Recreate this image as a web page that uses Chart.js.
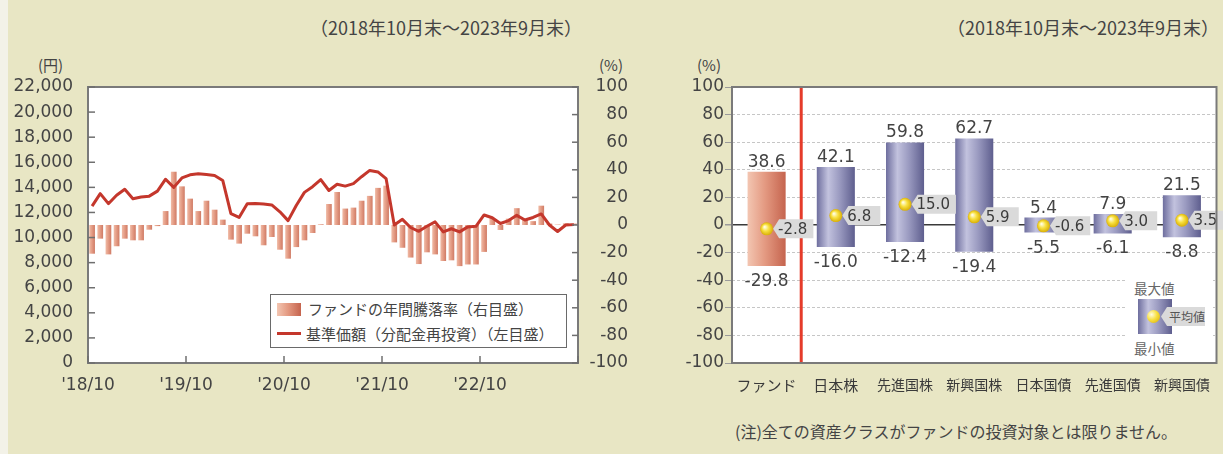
<!DOCTYPE html>
<html lang="ja">
<head>
<meta charset="utf-8">
<title>ファンドの年間騰落率と代表的な資産クラスとの騰落率の比較</title>
<script src="https://cdn.jsdelivr.net/npm/chart.js@4.4.1/dist/chart.umd.min.js"></script>
<style>
  html, body { margin: 0; padding: 0; }
  body {
    width: 1223px; height: 454px; position: relative; overflow: hidden;
    background: #e8e6c4; color: #444;
    font-family: "Noto Sans CJK JP", sans-serif;
  }
  .abs { position: absolute; white-space: nowrap; }
  #edge { left: 0; top: 0; width: 8px; height: 454px; background: #f3f2e8; }
  .period { top: 15px; font-size: 18px; line-height: 24px; color: #444; }
  .unit { top: 55px; font-size: 15px; line-height: 20px; color: #444; }
  canvas { position: absolute; top: 0; }
  #legend1 {
    left: 270px; top: 294px; width: 297px; height: 54px; box-sizing: border-box;
    border: 1.5px solid #6a6a6a; background: #fff;
  }
  #legend1 .txt { position: absolute; font-size: 15px; line-height: 20px; color: #444; white-space: nowrap; }
  .swatchBar { position: absolute; background: linear-gradient(to right, #f3c6b2, #e49a82 45%, #c5644e); }
  .swatchLine { position: absolute; background: #c4372c; }
  #legend2 { left: 1126px; top: 277px; width: 87px; height: 82px; background: #fff; }
  #legend2 .txt { position: absolute; font-size: 13.5px; line-height: 18px; color: #666; white-space: nowrap; }
  .swatchAsset { position: absolute; background: linear-gradient(to right, #6e6e9e, #c2c2de 30%, #9a9ac0 60%, #5e5e8e); }
  .dot { position: absolute; width: 13px; height: 13px; border-radius: 50%;
         background: radial-gradient(circle at 35% 35%, #fffde0 0%, #f8e040 45%, #d4a800 100%); }
  .tag { position: absolute; background: #dadada; color: #555; font-size: 12px; line-height: 19px;
         clip-path: polygon(0 50%, 6px 0, 100% 0, 100% 100%, 6px 100%); }
  #note { left: 735px; top: 420px; font-size: 16px; line-height: 22px; color: #444; }
</style>
</head>
<body>
<div id="edge" class="abs"></div>

<div class="abs period" style="right:641px;">（2018年10月末～2023年9月末）</div>
<div class="abs period" style="right:4px;">（2018年10月末～2023年9月末）</div>

<div class="abs unit" style="left:38px;">(円)</div>
<div class="abs unit" style="left:599px;">(%)</div>
<div class="abs unit" style="left:697px;">(%)</div>

<canvas id="navChart" width="640" height="400" style="left:0;"></canvas>
<canvas id="rangeChart" width="573" height="400" style="left:650px;"></canvas>

<div id="legend1" class="abs">
  <div class="swatchBar" style="left:6px;top:8px;width:24px;height:13px;"></div>
  <div class="txt" style="left:37px;top:4px;">ファンドの年間騰落率（右目盛）</div>
  <div class="swatchLine" style="left:6px;top:37px;width:24px;height:3px;"></div>
  <div class="txt" style="left:35px;top:29px;">基準価額（分配金再投資）（左目盛）</div>
</div>

<div id="legend2" class="abs">
  <div class="txt" style="left:8px;top:2px;">最大値</div>
  <div class="swatchAsset" style="left:12px;top:22px;width:34px;height:35px;"></div>
  <div class="dot" style="left:21px;top:33px;"></div>
  <div class="tag" style="left:35px;top:30px;width:44px;padding-left:8px;box-sizing:border-box;">平均値</div>
  <div class="txt" style="left:8px;top:62px;">最小値</div>
</div>

<div id="note" class="abs">(注)全ての資産クラスがファンドの投資対象とは限りません。</div>

<script>
// ---- 月次データ（2018年10月末〜2023年9月末） ----
const months = [];
for (let i = 0; i < 60; i++) {
  const m = (9 + i) % 12 + 1;
  const y = 2018 + Math.floor((9 + i) / 12);
  months.push(y + '/' + String(m).padStart(2, '0'));
}

// ファンドの年間騰落率（%）
const fundReturn = [
  -20.8, -9.9, -21.3, -15.4, -9.9, -11.1, -11.1, -3.4, -0.8, 10.1,
  38.6, 28.0, 19.1, 10.1, 17.6, 11.1, 3.9, -10.6, -13.5, -6.3,
  -8.2, -14.7, -8.7, -17.9, -24.4, -16.0, -11.1, -5.8, 0.5, 15.2,
  23.9, 11.9, 12.6, 17.6, 21.1, 26.9, 28.5, -12.6, -16.5, -23.6,
  -28.3, -19.8, -21.3, -26.1, -25.6, -29.8, -28.6, -28.6, -19.5, 4.8,
  -3.6, 4.6, 12.2, 4.2, 2.8, 14.0, 1.0, 0.3, 1.2, 1.0
];

// 基準価額（分配金再投資、円）
const navPrice = [
  12500, 13500, 12700, 13370, 13850, 13100, 13230, 13300, 13700, 14650,
  14000, 14750, 15000, 15080, 15020, 14950, 14550, 11900, 11600, 12700,
  12720, 12680, 12600, 12050, 11350, 12550, 13600, 14050, 14620, 13750,
  14250, 14100, 14300, 14850, 15350, 15230, 14700, 11000, 11450, 10800,
  10500, 10900, 11250, 10450, 10700, 10450, 10850, 10900, 11800, 11580,
  11120, 11350, 11770, 11400, 11600, 11880, 11000, 10480, 11000, 11030
];

const yearTicks = ["'18/10", "'19/10", "'20/10", "'21/10", "'22/10"];

// ---- 資産クラス別の騰落率（%） ----
const assetClasses = ['ファンド', '日本株', '先進国株', '新興国株', '日本国債', '先進国債', '新興国債'];
const maxReturn = [38.6, 42.1, 59.8, 62.7, 5.4, 7.9, 21.5];
const avgReturn = [-2.8, 6.8, 15.0, 5.9, -0.6, 3.0, 3.5];
const minReturn = [-29.8, -16.0, -12.4, -19.4, -5.5, -6.1, -8.8];

// ---- 共通スタイル ----
Chart.defaults.font.family = '"DejaVu Sans", sans-serif';
Chart.defaults.color = '#444';

const NUM_FONT = { family: '"DejaVu Sans", sans-serif', size: 17 };
const FUND_STOPS = [[0, '#f3c6b2'], [0.45, '#e49a82'], [1, '#c5644e']];
const FUND_STOPS_THIN = [[0, '#f0bba6'], [0.5, '#e39a83'], [1, '#cf7a64']];
const ASSET_STOPS = [[0, '#6e6e9e'], [0.3, '#c2c2de'], [0.6, '#9a9ac0'], [1, '#5e5e8e']];
const NAV_BAR_RATIO = 0.7;
const RANGE_BAR_RATIO = 0.55;

// 横方向のグラデーション（座標が未確定のときは単色で代用）
function hGradient(c, x0, x1, stops, fallback) {
  if (!Number.isFinite(x0) || !Number.isFinite(x1) || x1 <= x0) return fallback;
  const g = c.createLinearGradient(x0, 0, x1, 0);
  stops.forEach(([o, col]) => g.addColorStop(o, col));
  return g;
}

// 白いプロット領域と外枠
const plotFrame = {
  id: 'plotFrame',
  beforeDraw(chart) {
    const { ctx, chartArea: a } = chart;
    ctx.save();
    ctx.fillStyle = '#fff';
    ctx.fillRect(a.left, a.top, a.width, a.height);
    ctx.restore();
  },
  afterDraw(chart) {
    const { ctx, chartArea: a } = chart;
    ctx.save();
    ctx.strokeStyle = '#7a7a7a';
    ctx.lineWidth = 2;
    ctx.strokeRect(a.left, a.top, a.width, a.height);
    ctx.restore();
  }
};

// 内向きの目盛り線（左グラフ）
const innerTicks = {
  id: 'innerTicks',
  afterDraw(chart) {
    const { ctx, chartArea: a, scales } = chart;
    ctx.save();
    ctx.strokeStyle = '#6f6f6f';
    ctx.lineWidth = 1.5;
    const seg = (x1, y1, x2, y2) => { ctx.beginPath(); ctx.moveTo(x1, y1); ctx.lineTo(x2, y2); ctx.stroke(); };
    scales.y.ticks.forEach(t => { const p = scales.y.getPixelForValue(t.value); seg(a.left, p, a.left + 7, p); });
    scales.y2.ticks.forEach(t => { const p = scales.y2.getPixelForValue(t.value); seg(a.right - 6, p, a.right, p); });
    scales.x.ticks.forEach(t => { const p = scales.x.getPixelForValue(t.value); seg(p, a.bottom, p, a.bottom - 7); });
    ctx.restore();
  }
};

// ---- 左：基準価額と年間騰落率 ----
new Chart(document.getElementById('navChart'), {
  type: 'bar',
  data: {
    datasets: [
      {
        type: 'line',
        label: '基準価額（分配金再投資）（左目盛）',
        data: navPrice.map((v, i) => ({ x: i + 0.5, y: v })),
        yAxisID: 'y',
        borderColor: '#c4372c',
        borderWidth: 3,
        borderJoinStyle: 'round',
        pointRadius: 0,
        tension: 0,
        order: 0
      },
      {
        type: 'bar',
        label: 'ファンドの年間騰落率（右目盛）',
        data: fundReturn.map((v, i) => ({ x: i + 0.5, y: v })),
        yAxisID: 'y2',
        barPercentage: NAV_BAR_RATIO,
        categoryPercentage: 1,
        backgroundColor: (c) => {
          const xs = c.chart.scales.x;
          if (!xs || c.type !== 'data' || !c.raw) return '#e39a83';
          const cx = xs.getPixelForValue(c.raw.x);
          const half = (xs.getPixelForValue(1) - xs.getPixelForValue(0)) * NAV_BAR_RATIO / 2;
          return hGradient(c.chart.ctx, cx - half, cx + half, FUND_STOPS_THIN, '#e39a83');
        },
        order: 1
      }
    ]
  },
  options: {
    responsive: false,
    animation: false,
    events: [],
    devicePixelRatio: 1,
    layout: { padding: { top: 87, right: 12, bottom: 0, left: 0 } },
    plugins: { legend: { display: false }, tooltip: { enabled: false } },
    scales: {
      x: {
        type: 'linear',
        position: 'bottom',
        offset: false,
        min: 0, max: months.length,
        grid: { display: false, offset: false },
        border: { display: false },
        ticks: {
          stepSize: 12,
          autoSkip: false,
          maxRotation: 0,
          padding: 4,
          font: NUM_FONT,
          color: '#444',
          callback: (v) => yearTicks[v / 12] ?? ''
        },
        afterFit: (s) => { s.height = 37; }
      },
      y: {
        position: 'left',
        min: 0, max: 22000,
        grid: { display: false },
        border: { display: false },
        ticks: {
          stepSize: 2000,
          padding: 7,
          font: NUM_FONT,
          color: '#444',
          callback: (v) => v.toLocaleString('en-US')
        },
        afterFit: (s) => { s.width = 88; }
      },
      y2: {
        position: 'right',
        min: -100, max: 100,
        grid: { display: false },
        border: { display: false },
        ticks: {
          stepSize: 20,
          padding: 0,
          crossAlign: 'far',
          font: NUM_FONT,
          color: '#444'
        },
        afterFit: (s) => { s.width = 50; }
      }
    }
  },
  plugins: [plotFrame, innerTicks]
});

// ---- 右：資産クラス別の騰落率レンジ ----
function drawTag(ctx, x0, y, text) {
  const w = Math.max(38, ctx.measureText(text).width + 11);
  const h = 19, n = 6;
  ctx.beginPath();
  ctx.moveTo(x0, y);
  ctx.lineTo(x0 + n, y - h / 2);
  ctx.lineTo(x0 + w, y - h / 2);
  ctx.lineTo(x0 + w, y + h / 2);
  ctx.lineTo(x0 + n, y + h / 2);
  ctx.closePath();
  ctx.fillStyle = '#dadada';
  ctx.fill();
  ctx.fillStyle = '#3c3c3c';
  ctx.textAlign = 'left';
  ctx.textBaseline = 'middle';
  ctx.fillText(text, x0 + 5, y + 1);
}

const separator = {
  id: 'separator',
  beforeDatasetsDraw(chart) {
    const { ctx, chartArea: a, scales } = chart;
    const x = (scales.x.getPixelForValue(0) + scales.x.getPixelForValue(1)) / 2;
    ctx.save();
    ctx.strokeStyle = '#e53b2a';
    ctx.lineWidth = 3;
    ctx.beginPath();
    ctx.moveTo(x, a.top);
    ctx.lineTo(x, a.bottom);
    ctx.stroke();
    ctx.restore();
  }
};

const rangeLabels = {
  id: 'rangeLabels',
  afterDatasetsDraw(chart) {
    const { ctx } = chart;
    const bars = chart.getDatasetMeta(0).data;
    const dots = chart.getDatasetMeta(1).data;
    ctx.save();
    ctx.font = '17px "DejaVu Sans"';
    ctx.fillStyle = '#444';
    ctx.textAlign = 'center';
    ctx.textBaseline = 'alphabetic';
    bars.forEach((bar, i) => {
      const top = Math.min(bar.y, bar.base);
      const bottom = Math.max(bar.y, bar.base);
      ctx.fillText(maxReturn[i].toFixed(1), bar.x, top - 5);
      ctx.fillText(minReturn[i].toFixed(1), bar.x, bottom + 20);
    });
    ctx.font = '15px "DejaVu Sans"';
    dots.forEach((pt, i) => drawTag(ctx, pt.x + 6.5, pt.y, avgReturn[i].toFixed(1)));
    ctx.restore();
  }
};

new Chart(document.getElementById('rangeChart'), {
  type: 'bar',
  data: {
    labels: assetClasses,
    datasets: [
      {
        label: '最大値・最小値',
        data: assetClasses.map((_, i) => [minReturn[i], maxReturn[i]]),
        barPercentage: RANGE_BAR_RATIO,
        categoryPercentage: 1,
        backgroundColor: (c) => {
          const xs = c.chart.scales.x;
          const fallback = c.dataIndex === 0 ? '#e49a82' : '#9a9ac0';
          if (!xs || c.type !== 'data') return fallback;
          const cx = xs.getPixelForValue(c.dataIndex);
          const half = xs.width / assetClasses.length * RANGE_BAR_RATIO / 2;
          return hGradient(c.chart.ctx, cx - half, cx + half, c.dataIndex === 0 ? FUND_STOPS : ASSET_STOPS, fallback);
        },
        order: 1
      },
      {
        type: 'line',
        label: '平均値',
        data: avgReturn,
        showLine: false,
        pointRadius: 6.5,
        pointBorderWidth: 0,
        pointBackgroundColor: (c) => {
          const xs = c.chart.scales.x, ys = c.chart.scales.y;
          if (!xs || !ys || c.type !== 'data') return '#f0d020';
          const x = xs.getPixelForValue(c.dataIndex);
          const y = ys.getPixelForValue(avgReturn[c.dataIndex]);
          if (!Number.isFinite(x) || !Number.isFinite(y)) return '#f0d020';
          const g = c.chart.ctx.createRadialGradient(x - 2, y - 2, 0.5, x, y, 7);
          g.addColorStop(0, '#fffde0');
          g.addColorStop(0.45, '#f8e040');
          g.addColorStop(1, '#d4a800');
          return g;
        },
        order: 0
      }
    ]
  },
  options: {
    responsive: false,
    animation: false,
    events: [],
    devicePixelRatio: 1,
    layout: { padding: { top: 87, right: 1, bottom: 0, left: 0 } },
    plugins: { legend: { display: false }, tooltip: { enabled: false } },
    scales: {
      x: {
        offset: true,
        grid: { display: false },
        border: { display: false },
        ticks: {
          autoSkip: false,
          maxRotation: 0,
          padding: 5,
          color: '#3a3a3a',
          font: (c) => ({ family: '"Noto Sans CJK JP", sans-serif', size: c.index < 2 ? 15 : 14 })
        },
        afterFit: (s) => { s.height = 37; }
      },
      y: {
        min: -100, max: 100,
        grid: {
          color: (c) => c.tick.value === 0 ? '#3a3a3a' : (Math.abs(c.tick.value) === 100 ? 'rgba(0,0,0,0)' : '#c6c6c6'),
          lineWidth: (c) => c.tick.value === 0 ? 1.5 : 1,
          tickColor: '#9a9a9a',
          tickLength: 7
        },
        border: {
          display: false,
          dash: (c) => c.tick.value === 0 ? [] : [3, 2]
        },
        ticks: {
          stepSize: 20,
          padding: 1,
          font: NUM_FONT,
          color: '#444'
        },
        afterFit: (s) => { s.width = 82; }
      }
    }
  },
  plugins: [plotFrame, separator, rangeLabels]
});
</script>
</body>
</html>
